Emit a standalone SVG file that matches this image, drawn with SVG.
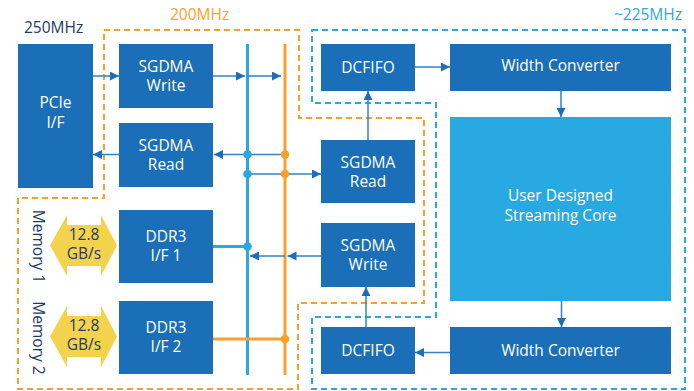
<svg xmlns="http://www.w3.org/2000/svg" width="694" height="391" viewBox="0 0 694 391">
  <style>
    .blk { fill: #1a6fb8; }
    .core { fill: #29a9e1; }
    .lbl { font-family: "Open Sans", "Noto Sans", sans-serif; font-size: 15.5px; fill: #ffffff; text-anchor: middle; }
    .dark { fill: #1f3a68; }
    .clk { font-family: "Open Sans", "Noto Sans", sans-serif; font-size: 15.5px; }
    .thin { stroke: #3580c6; stroke-width: 1.5; fill: none; }
    .bus-b { stroke: #29a9e1; stroke-width: 3; fill: none; }
    .bus-o { stroke: #f7a12b; stroke-width: 3; fill: none; }
    .dash-o { stroke: #f7a12b; stroke-width: 2; stroke-dasharray: 6 4; fill: none; }
    .dash-b { stroke: #29a9e1; stroke-width: 2; stroke-dasharray: 6 4; fill: none; }
    .yel { fill: #f3d24e; }
  </style>
  <defs>
    <marker id="ah" viewBox="0 0 10 10" refX="10" refY="5" markerWidth="9" markerHeight="9" markerUnits="userSpaceOnUse" orient="auto">
      <path d="M0,0 L10,5 L0,10 Z" fill="#1e6db8"/>
    </marker>
  </defs>

  <!-- clock domain borders -->
  <g id="domains">
    <path class="dash-o" d="M104,30 H299 V118 H424 V303 H298 V389 H18 V198 H104 Z"/>
    <path class="dash-b" d="M312,30 H685 V389 H312 V317 H436 V103 H312 Z"/>
    <text class="clk" x="24" y="33" fill="#1f3a68">250MHz</text>
    <text class="clk" x="170" y="20" fill="#f7a12b">200MHz</text>
    <text class="clk" x="682" y="20" fill="#29a9e1" text-anchor="end">~225MHz</text>
  </g>

  <!-- connectors and buses -->
  <g id="connectors">
    <line class="bus-b" x1="247.5" y1="44" x2="247.5" y2="375"/>
    <line class="bus-o" x1="285" y1="44" x2="285" y2="375"/>
    <line class="bus-b" x1="213" y1="246.5" x2="247.5" y2="246.5"/>
    <line class="bus-o" x1="213" y1="339" x2="285" y2="339"/>

    <line class="thin" x1="93" y1="76" x2="119" y2="76" marker-end="url(#ah)"/>
    <line class="thin" x1="213" y1="76" x2="245" y2="76" marker-end="url(#ah)"/>
    <line class="thin" x1="247" y1="76" x2="281" y2="76" marker-end="url(#ah)"/>
    <line class="thin" x1="119" y1="154.5" x2="93" y2="154.5" marker-end="url(#ah)"/>
    <line class="thin" x1="285" y1="154.5" x2="214" y2="154.5" marker-end="url(#ah)"/>
    <line class="thin" x1="247.5" y1="174" x2="321" y2="174" marker-end="url(#ah)"/>
    <line class="thin" x1="321" y1="256" x2="287.5" y2="256" marker-end="url(#ah)"/>
    <line class="thin" x1="285" y1="256" x2="250" y2="256" marker-end="url(#ah)"/>

    <line class="thin" x1="368" y1="140" x2="368" y2="91" marker-end="url(#ah)"/>
    <line class="thin" x1="415" y1="67" x2="450" y2="67" marker-end="url(#ah)"/>
    <line class="thin" x1="561" y1="91" x2="561" y2="117" marker-end="url(#ah)"/>
    <line class="thin" x1="561.5" y1="301" x2="561.5" y2="327" marker-end="url(#ah)"/>
    <line class="thin" x1="450" y1="352.5" x2="415" y2="352.5" marker-end="url(#ah)"/>
    <line class="thin" x1="366" y1="327" x2="366" y2="287" marker-end="url(#ah)"/>

    <circle cx="247.5" cy="154.5" r="4.3" fill="#29a9e1"/>
    <circle cx="285" cy="154.5" r="4.3" fill="#f7a12b"/>
    <circle cx="247.5" cy="174" r="4.3" fill="#29a9e1"/>
    <circle cx="285" cy="174" r="4.3" fill="#f7a12b"/>
    <circle cx="247.5" cy="246.5" r="4.3" fill="#29a9e1"/>
    <circle cx="285" cy="339" r="4.3" fill="#f7a12b"/>
  </g>

  <g id="pcie">
    <rect class="blk" x="18" y="44" width="75" height="144"/>
    <text class="lbl" x="55.5" y="108">PCIe</text>
    <text class="lbl" x="55.5" y="127.5">I/F</text>
  </g>

  <g id="sgdma-write-host">
    <rect class="blk" x="119" y="44" width="94" height="64"/>
    <text class="lbl" x="166" y="72">SGDMA</text>
    <text class="lbl" x="166" y="91">Write</text>
  </g>

  <g id="sgdma-read-host">
    <rect class="blk" x="119" y="123" width="94" height="64"/>
    <text class="lbl" x="166" y="151">SGDMA</text>
    <text class="lbl" x="166" y="170">Read</text>
  </g>

  <g id="ddr3-1">
    <rect class="blk" x="119" y="210" width="94" height="73"/>
    <text class="lbl" x="166" y="242">DDR3</text>
    <text class="lbl" x="166" y="261">I/F 1</text>
  </g>

  <g id="ddr3-2">
    <rect class="blk" x="119" y="301" width="94" height="73"/>
    <text class="lbl" x="166" y="333">DDR3</text>
    <text class="lbl" x="166" y="352">I/F 2</text>
  </g>

  <g id="memory-1">
    <path class="yel" d="M50,245.5 L67,215 V225 H101 V215 L117,245.5 L101,276 V266 H67 V276 Z"/>
    <text class="lbl dark" x="84" y="240">12.8</text>
    <text class="lbl dark" x="84" y="259">GB/s</text>
    <text class="lbl dark" transform="translate(33,246.5) rotate(90)" x="0" y="0">Memory 1</text>
  </g>

  <g id="memory-2">
    <path class="yel" d="M50,336.5 L67,306 V316 H101 V306 L117,336.5 L101,367 V357 H67 V367 Z"/>
    <text class="lbl dark" x="84" y="331">12.8</text>
    <text class="lbl dark" x="84" y="350">GB/s</text>
    <text class="lbl dark" transform="translate(33,338) rotate(90)" x="0" y="0">Memory 2</text>
  </g>

  <g id="sgdma-read-core">
    <rect class="blk" x="321" y="140" width="94" height="63"/>
    <text class="lbl" x="368" y="167.5">SGDMA</text>
    <text class="lbl" x="368" y="186.5">Read</text>
  </g>

  <g id="sgdma-write-core">
    <rect class="blk" x="321" y="223" width="94" height="64"/>
    <text class="lbl" x="368" y="251">SGDMA</text>
    <text class="lbl" x="368" y="270">Write</text>
  </g>

  <g id="dcfifo-in">
    <rect class="blk" x="321" y="44" width="94" height="47"/>
    <text class="lbl" x="368" y="72.5">DCFIFO</text>
  </g>

  <g id="width-converter-in">
    <rect class="blk" x="450" y="44" width="221" height="47"/>
    <text class="lbl" x="560.5" y="71">Width Converter</text>
  </g>

  <g id="streaming-core">
    <rect class="core" x="450" y="117" width="221" height="184"/>
    <text class="lbl" x="560.5" y="201">User Designed</text>
    <text class="lbl" x="560.5" y="220.5">Streaming Core</text>
  </g>

  <g id="width-converter-out">
    <rect class="blk" x="450" y="327" width="221" height="47"/>
    <text class="lbl" x="560.5" y="355.5">Width Converter</text>
  </g>

  <g id="dcfifo-out">
    <rect class="blk" x="321" y="327" width="94" height="47"/>
    <text class="lbl" x="368" y="356">DCFIFO</text>
  </g>
</svg>
